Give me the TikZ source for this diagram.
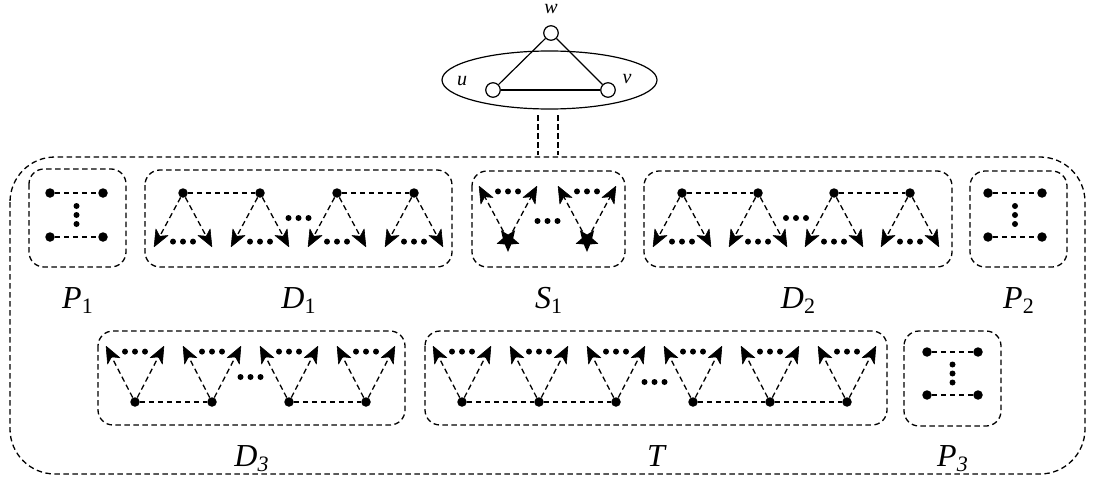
\documentclass[tikz,border=0pt]{standalone}
\usepackage{fontspec}
\setmainfont{Liberation Serif}
\usetikzlibrary{arrows.meta,shapes.geometric,calc}
\tikzset{
  dl/.style={line width=1.3pt, dash pattern=on 5.5pt off 3.5pt},
  dbox/.style={dl, rounded corners=15pt},
  vtx/.style={circle, fill, inner sep=0pt, minimum size=9.5pt},
  starv/.style={star, star points=5, star point ratio=2.2, shape border rotate=180, fill, inner sep=0pt, minimum size=24pt},
  sdot/.style={circle, fill, inner sep=0pt, minimum size=6pt},
  tipst/.tip={Stealth[length=18pt,width=15pt,inset=5pt,line width=0.6pt,round]},
  arr/.style={dl, -tipst},
  ov/.style={circle, draw, fill=white, line width=1.2pt, inner sep=0pt, minimum size=14.5pt},
  lab/.style={anchor=base, inner sep=0pt, font=\fontsize{32}{32}\selectfont\itshape},
  sl/.style={anchor=base, inner sep=0pt, font=\fontsize{20}{20}\selectfont\itshape},
  solid line/.style={line width=1.2pt},
}
\newcommand{\sbs}[1]{\raisebox{-5pt}{\fontsize{22}{22}\selectfont #1}}
\newcommand{\threeh}[3]{%
  \node[sdot] (#1a) at ({#2-10},{#3}) {};
  \node[sdot] (#1b) at ({#2},{#3}) {};
  \node[sdot] (#1c) at ({#2+10},{#3}) {};
}
\newcommand{\threev}[3]{%
  \node[sdot] (#1a) at ({#2},{#3-9}) {};
  \node[sdot] (#1b) at ({#2},{#3}) {};
  \node[sdot] (#1c) at ({#2},{#3+9}) {};
}
% [apex style]{name}{apex x}{apex y}{signed height}
\newcommand{\tri}[5][vtx]{%
  \node[#1] (#2v) at (#3,#4) {};
  \coordinate (#2l) at ({#3-29},{#4+(#5)});
  \coordinate (#2r) at ({#3+29},{#4+(#5)});
  \draw[arr] (#2v) -- (#2l);
  \draw[arr] (#2v) -- (#2r);
  \threeh{#2d}{#3}{#4+0.9*(#5)}
}
% {name}{x left}{x right}{y top}{y bottom}
\newcommand{\pbox}[5]{%
  \node[vtx] (#1tl) at (#2,#4) {};
  \node[vtx] (#1tr) at (#3,#4) {};
  \node[vtx] (#1bl) at (#2,#5) {};
  \node[vtx] (#1br) at (#3,#5) {};
  \draw[dl] (#1tl) -- (#1tr);
  \draw[dl] (#1bl) -- (#1br);
  \threev{#1d}{(#2+#3)/2}{(#4+#5)/2}
}
\begin{document}
\begin{tikzpicture}[x=1pt, y=-1pt]
\useasboundingbox (0,0) rectangle (1097,487);

% top graph
\draw[solid line] (549.5,80) ellipse [x radius=107.5pt, y radius=29pt];
\node[ov] (w) at (551,33) {};
\node[ov] (u) at (493,90) {};
\node[ov] (v) at (608,90) {};
\draw[solid line] (w) -- (u);
\draw[solid line] (u) -- (v);
\draw[solid line] (v) -- (w);
\node[sl] (lw) at (551,14) {w};
\node[sl] (lu) at (462,85) {u};
\node[sl] (lv) at (627,83) {v};

\coordinate (c1a) at (538,115); \coordinate (c1b) at (538,155);
\coordinate (c2a) at (558,115); \coordinate (c2b) at (558,155);
\draw[dl] (c1a) -- (c1b);
\draw[dl] (c2a) -- (c2b);

% outer box
\draw[dl, rounded corners=45pt] (10,157) rectangle (1085,474);

% boxes
\draw[dbox] (29,169) rectangle (126,267);
\draw[dbox] (145,170) rectangle (452,267);
\draw[dbox] (472,171) rectangle (625,267);
\draw[dbox] (644,171) rectangle (952,267);
\draw[dbox] (970,171) rectangle (1067,267);
\draw[dbox] (98,331) rectangle (405,425);
\draw[dbox] (425,331) rectangle (887,425);
\draw[dbox] (904,331) rectangle (1001,426);

% P boxes
\pbox{pa}{50}{103}{193}{237}
\pbox{pb}{988}{1042}{193}{237}
\pbox{pc}{927}{978}{352}{395}

% D1
\tri{da}{183}{193}{54}
\tri{db}{260}{193}{54}
\tri{dc}{337}{193}{54}
\tri{dd}{414}{193}{54}
\draw[dl] (dav) -- (dbv);
\draw[dl] (dcv) -- (ddv);
\threeh{dm}{298.5}{218}

% S1
\tri[starv]{sa}{508}{240}{-54}
\tri[starv]{sb}{587}{240}{-54}
\threeh{sm}{547.5}{221}

% D2
\tri{ea}{682}{193}{54}
\tri{eb}{758}{193}{54}
\tri{ec}{834}{193}{54}
\tri{ed}{910}{193}{54}
\draw[dl] (eav) -- (ebv);
\draw[dl] (ecv) -- (edv);
\threeh{em}{796}{218}

% D3
\tri{fa}{135}{402}{-56}
\tri{fb}{212}{402}{-56}
\tri{fc}{289}{402}{-56}
\tri{fd}{366}{402}{-56}
\draw[dl] (fav) -- (fbv);
\draw[dl] (fcv) -- (fdv);
\threeh{fm}{250.5}{377}

% T
\tri{ta}{462}{402}{-56}
\tri{tb}{539}{402}{-56}
\tri{tc}{616}{402}{-56}
\tri{td}{693}{402}{-56}
\tri{te}{770}{402}{-56}
\tri{tf}{847}{402}{-56}
\draw[dl] (tav) -- (tbv);
\draw[dl] (tbv) -- (tcv);
\draw[dl] (tdv) -- (tev);
\draw[dl] (tev) -- (tfv);
\threeh{tm}{654.5}{382}

% labels
\node[lab] (lP1) at (77.5,308) {P\sbs{\upshape 1}};
\node[lab] (lD1) at (298.5,308) {D\sbs{\upshape 1}};
\node[lab] (lS1) at (548.5,308) {S\sbs{\upshape 1}};
\node[lab] (lD2) at (798,308) {D\sbs{\upshape 2}};
\node[lab] (lP2) at (1018.5,308) {P\sbs{\upshape 2}};
\node[lab] (lD3) at (251.5,466) {D\sbs{3}};
\node[lab] (lT) at (656,466) {T};
\node[lab] (lP3) at (952.5,466) {P\sbs{3}};
\end{tikzpicture}
\end{document}
